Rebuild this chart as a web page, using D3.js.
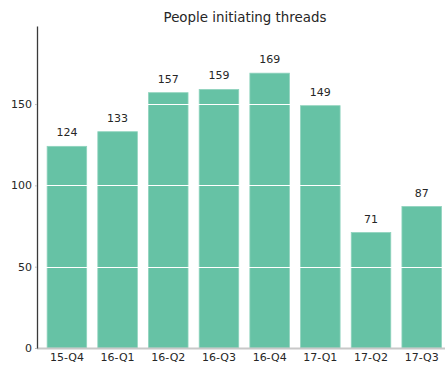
<!DOCTYPE html>
<html>
<head>
<meta charset="utf-8">
<script src="https://cdn.jsdelivr.net/npm/d3@7"></script>
<style>
  html, body { margin: 0; padding: 0; background: #fff; }
  svg { display: block; font-family: "DejaVu Sans", sans-serif; }
</style>
</head>
<body>
<svg id="chart" width="445" height="366"></svg>
<script>
// Quarterly counts of people who started a thread
const quarters = ["15-Q4", "16-Q1", "16-Q2", "16-Q3", "16-Q4", "17-Q1", "17-Q2", "17-Q3"];
const people = [124, 133, 157, 159, 169, 149, 71, 87];
const yTicks = [0, 50, 100, 150];
const title = "People initiating threads";

const svg = d3.select("#chart");
const margin = { left: 37, top: 26 };
const width = 445;
const baseY = 348;

const x = d3.scaleBand()
  .domain(quarters)
  .range([37, 451.6])
  .paddingInner(0.22)
  .paddingOuter(0.2);

const y = d3.scaleLinear()
  .domain([0, 198])
  .range([baseY, margin.top]);

// bars
svg.append("g").selectAll("rect")
  .data(quarters)
  .join("rect")
  .attr("x", d => x(d))
  .attr("y", (d, i) => y(people[i]))
  .attr("width", x.bandwidth())
  .attr("height", (d, i) => baseY - y(people[i]))
  .attr("fill", "#66c2a5")
  .attr("stroke", "#8fd3bd")
  .attr("stroke-width", 0.8);

// white grid lines drawn over the bars
svg.append("g").selectAll("line")
  .data(yTicks.filter(t => t > 0))
  .join("line")
  .attr("x1", margin.left)
  .attr("x2", width)
  .attr("y1", d => Math.round(y(d)) + 0.5)
  .attr("y2", d => Math.round(y(d)) + 0.5)
  .attr("stroke", "#fff")
  .attr("stroke-width", 1.2);

// value labels
svg.append("g").selectAll("text")
  .data(quarters)
  .join("text")
  .attr("x", d => x(d) + x.bandwidth() / 2)
  .attr("y", (d, i) => y(people[i]) - 10)
  .attr("text-anchor", "middle")
  .attr("font-size", 11)
  .attr("fill", "#262626")
  .text((d, i) => people[i]);

// x axis baseline
svg.append("line")
  .attr("x1", margin.left).attr("x2", width)
  .attr("y1", baseY + 0.5).attr("y2", baseY + 0.5)
  .attr("stroke", "#c8c8c8")
  .attr("stroke-width", 2);

// x axis labels
const xAxis = svg.append("g")
  .attr("transform", `translate(0,${baseY})`)
  .call(d3.axisBottom(x).tickSize(0).tickPadding(5));
xAxis.select(".domain").remove();
xAxis.selectAll("text")
  .attr("font-family", "DejaVu Sans")
  .attr("font-size", 11)
  .attr("fill", "#262626");

// y axis
const yAxis = svg.append("g")
  .attr("transform", `translate(${margin.left},0)`)
  .call(d3.axisLeft(y).tickValues(yTicks).tickSize(2).tickPadding(3).tickSizeOuter(0));
yAxis.select(".domain").attr("stroke", "#3a3a3a").attr("stroke-width", 1.3);
yAxis.selectAll(".tick line").attr("stroke", "#bbb");
yAxis.selectAll("text")
  .attr("font-family", "DejaVu Sans")
  .attr("font-size", 11)
  .attr("fill", "#262626");

// title
svg.append("text")
  .attr("x", 245)
  .attr("y", 22)
  .attr("text-anchor", "middle")
  .attr("font-size", 13.4)
  .attr("fill", "#262626")
  .text(title);
</script>
</body>
</html>
